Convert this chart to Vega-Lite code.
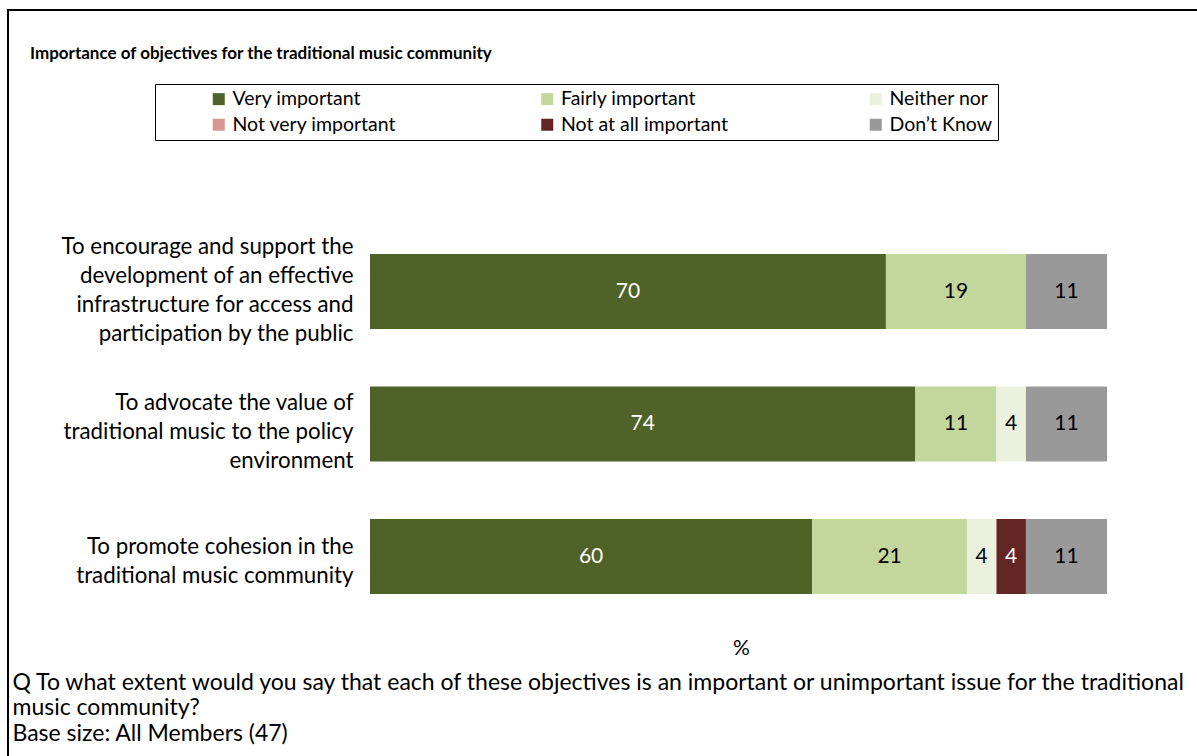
{
  "$schema": "https://vega.github.io/schema/vega-lite/v6.json",
  "autosize": {"type": "none"},
  "padding": {"left": 8, "top": 10, "right": 0, "bottom": 0},
  "width": 1190,
  "height": 747,
  "background": "white",
  "title": {
    "text": "Importance of objectives for the traditional music community",
    "anchor": "start",
    "frame": "group",
    "orient": "top",
    "offset": -53,
    "dx": 22,
    "baseline": "top",
    "font": "Lato",
    "fontSize": 17,
    "fontWeight": "bold",
    "color": "black"
  },
  "data": {
    "values": [
      {"Objective": "To encourage and support the\ndevelopment of an effective\ninfrastructure for access and\nparticipation by the public", "Response": "Very important", "Rank": 1, "Percent": 70},
      {"Objective": "To encourage and support the\ndevelopment of an effective\ninfrastructure for access and\nparticipation by the public", "Response": "Fairly important", "Rank": 2, "Percent": 19},
      {"Objective": "To encourage and support the\ndevelopment of an effective\ninfrastructure for access and\nparticipation by the public", "Response": "Don’t Know", "Rank": 6, "Percent": 11},
      {"Objective": "To advocate the value of\ntraditional music to the policy\nenvironment", "Response": "Very important", "Rank": 1, "Percent": 74},
      {"Objective": "To advocate the value of\ntraditional music to the policy\nenvironment", "Response": "Fairly important", "Rank": 2, "Percent": 11},
      {"Objective": "To advocate the value of\ntraditional music to the policy\nenvironment", "Response": "Neither nor", "Rank": 3, "Percent": 4},
      {"Objective": "To advocate the value of\ntraditional music to the policy\nenvironment", "Response": "Don’t Know", "Rank": 6, "Percent": 11},
      {"Objective": "To promote cohesion in the\ntraditional music community", "Response": "Very important", "Rank": 1, "Percent": 60},
      {"Objective": "To promote cohesion in the\ntraditional music community", "Response": "Fairly important", "Rank": 2, "Percent": 21},
      {"Objective": "To promote cohesion in the\ntraditional music community", "Response": "Neither nor", "Rank": 3, "Percent": 4},
      {"Objective": "To promote cohesion in the\ntraditional music community", "Response": "Not at all important", "Rank": 5, "Percent": 4},
      {"Objective": "To promote cohesion in the\ntraditional music community", "Response": "Don’t Know", "Rank": 6, "Percent": 11}
    ]
  },
  "encoding": {
    "y": {
      "field": "Objective",
      "type": "nominal",
      "sort": null,
      "scale": {"range": [215.25, 612.75], "paddingInner": 0.434, "paddingOuter": 0.217},
      "axis": {
        "orient": "left",
        "offset": -362,
        "domain": false,
        "ticks": false,
        "grid": false,
        "labelExpr": "split(datum.label, '\\n')",
        "labelAlign": "right",
        "labelBaseline": "middle",
        "labelOffset": {
          "condition": [
            {"test": "indexof(datum.value, 'encourage') >= 0", "value": -45},
            {"test": "indexof(datum.value, 'advocate') >= 0", "value": -21}
          ],
          "value": -10
        },
        "labelFont": "Lato",
        "labelFontSize": 22.3,
        "labelColor": "black",
        "labelLineHeight": 29,
        "labelPadding": 17,
        "labelLimit": 0,
        "labelOverlap": false,
        "title": [
          "Q  To what extent would you say that each of these objectives is an important or unimportant issue for the traditional",
          "music community?",
          "Base size: All Members (47)"
        ],
        "titleAngle": 0,
        "titleAlign": "left",
        "titleBaseline": "top",
        "titleX": -358,
        "titleY": 661,
        "titleFont": "Lato",
        "titleFontSize": 23,
        "titleFontWeight": "normal",
        "titleColor": "black",
        "titleLineHeight": 25.5
      }
    },
    "x": {
      "field": "Percent",
      "type": "quantitative",
      "stack": "zero",
      "scale": {"domain": [0, 100], "range": [362, 1099], "nice": false, "zero": true},
      "axis": {
        "orient": "bottom",
        "offset": -130,
        "title": "%",
        "titleFont": "Lato",
        "titleFontSize": 21,
        "titleFontWeight": "normal",
        "titleColor": "black",
        "titlePadding": 10,
        "titleX": 733,
        "labels": false,
        "ticks": false,
        "domain": false,
        "grid": false
      }
    },
    "order": {"field": "Rank", "type": "quantitative", "sort": "ascending"},
    "color": {
      "field": "Response",
      "type": "nominal",
      "scale": {
        "domain": ["Very important", "Fairly important", "Neither nor", "Not very important", "Not at all important", "Don’t Know"],
        "range": ["#4F6228", "#C3D69B", "#EBF1DE", "#D99694", "#632523", "#999999"]
      },
      "legend": {
        "orient": "none",
        "legendX": 147,
        "legendY": 74,
        "direction": "horizontal",
        "columns": 3,
        "gridAlign": "all",
        "columnPadding": 137.5,
        "rowPadding": 5,
        "padding": 5,
        "strokeColor": "#000000",
        "title": " ",
        "titleOrient": "left",
        "titleFontSize": 1,
        "titlePadding": 49,
        "symbolType": "square",
        "symbolSize": 144,
        "symbolStrokeWidth": 0,
        "symbolOpacity": 1,
        "labelFont": "Lato",
        "labelFontSize": 19.5,
        "labelColor": "black",
        "labelOffset": 4,
        "labelLimit": 0
      }
    }
  },
  "layer": [
    {"mark": {"type": "bar"}},
    {
      "mark": {"type": "text", "font": "Lato", "fontSize": 21, "align": "center", "baseline": "middle"},
      "encoding": {
        "x": {"field": "Percent", "type": "quantitative", "stack": "zero", "bandPosition": 0.5},
        "text": {"field": "Percent", "type": "quantitative"},
        "fill": {
          "condition": {"test": "datum.Response === 'Very important' || datum.Response === 'Not at all important'", "value": "white"},
          "value": "black"
        }
      }
    }
  ],
  "config": {
    "view": {"stroke": "#000000", "strokeWidth": 2},
    "font": "Lato"
  }
}
